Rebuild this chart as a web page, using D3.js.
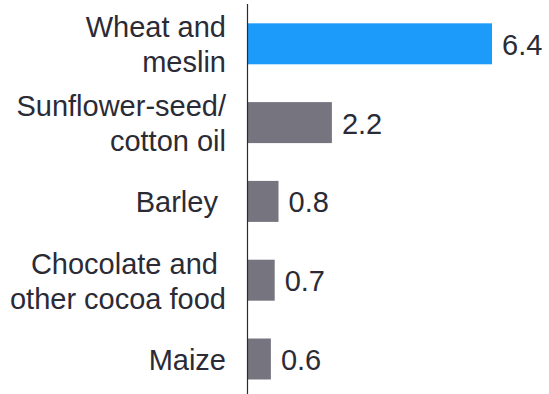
<!DOCTYPE html>
<html>
<head>
<meta charset="utf-8">
<script src="https://cdn.jsdelivr.net/npm/d3@7"></script>
<style>
  html, body { margin: 0; padding: 0; background: #fff; }
  svg { display: block; }
  text { font-family: "Liberation Sans", Arial, sans-serif; fill: #2b2b36; }
</style>
</head>
<body>
<svg id="chart" width="549" height="394"></svg>
<script>
// Products, each label split into its printed lines
const categories = ["Wheat and meslin", "Sunflower-seed/ cotton oil", "Barley", "Chocolate and other cocoa food", "Maize"];
const labelLines = [["Wheat and", "meslin"], ["Sunflower-seed/", "cotton oil"], ["Barley "], ["Chocolate and ", "other cocoa food"], ["Maize"]];
const values = [6.4, 2.2, 0.8, 0.7, 0.6];
const valueLabels = ["6.4", "2.2", "0.8", "0.7", "0.6"];
const barColors = ["#1d9bfb", "#75747f", "#75747f", "#75747f", "#75747f"];

const svg = d3.select("#chart");
const x0 = 248;

const x = d3.scaleLinear().domain([0, 6.4]).range([x0, 492]);
const y = d3.scaleBand().domain(categories).range([4.4, 398.4])
  .paddingInner(0.48).paddingOuter(0.24);

// bars
svg.selectAll("rect.bar").data(categories).join("rect")
  .attr("class", "bar")
  .attr("x", x(0))
  .attr("y", d => y(d))
  .attr("width", (d, i) => x(values[i]) - x(0))
  .attr("height", y.bandwidth())
  .attr("fill", (d, i) => barColors[i]);

// value labels at bar ends
svg.selectAll("text.val").data(categories).join("text")
  .attr("class", "val")
  .attr("x", (d, i) => x(values[i]) + 10)
  .attr("y", d => y(d) + y.bandwidth() / 2 + 11)
  .attr("font-size", 29)
  .text((d, i) => valueLabels[i]);

// category axis line
const yAxis = d3.axisLeft(y).tickSize(0).tickFormat("");
const g = svg.append("g").attr("transform", "translate(247.5,0)").call(yAxis);
g.select(".domain").attr("stroke", "#2b2b36").attr("stroke-width", 1.2)
  .attr("d", "M0,4V394");

// category labels, right-aligned
const lineH = 35.3;
svg.selectAll("text.cat").data(categories).join("text")
  .attr("class", "cat")
  .attr("text-anchor", "end")
  .attr("font-size", 29)
  .style("white-space", "pre")
  .each(function (d, i) {
    const lines = labelLines[i];
    const c = y(d) + y.bandwidth() / 2;
    const first = c + 11 - (lines.length - 1) * lineH / 2;
    d3.select(this).selectAll("tspan").data(lines).join("tspan")
      .attr("x", 226)
      .attr("y", (l, k) => first + k * lineH)
      .text(l => l);
  });
</script>
</body>
</html>
